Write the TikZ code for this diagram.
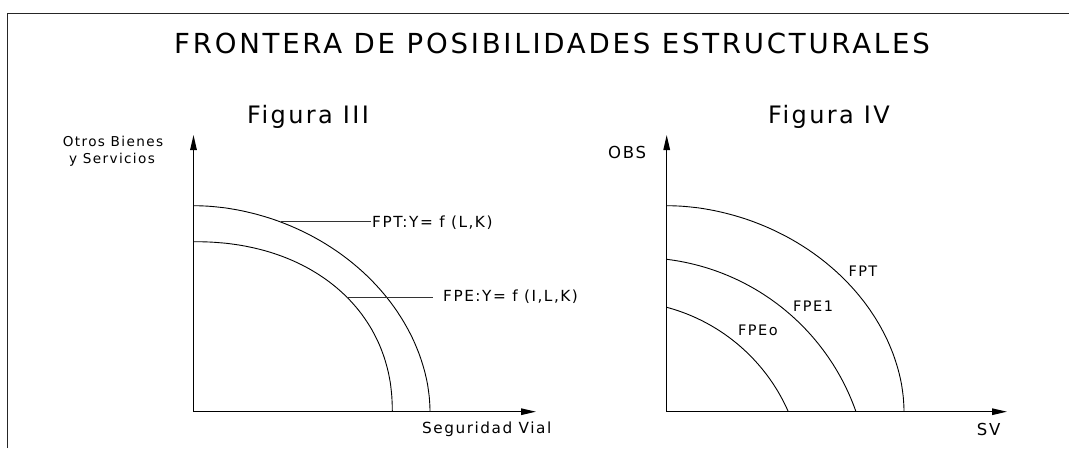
\documentclass[tikz,border=0pt]{standalone}
\usepackage{fontspec}
\setmainfont{DejaVu Sans}[LetterSpace=10]
\usetikzlibrary{arrows.meta}
\begin{document}
\begin{tikzpicture}[x=1pt,y=-1pt,
  frame/.style={line width=1.3pt, black!85},
  axis/.style={line width=1.3pt, -{Triangle[length=15pt,width=6.5pt]}},
  curve/.style={line width=0.9pt},
  leader/.style={line width=0.9pt, black!80},
  txt/.style={inner sep=0pt, anchor=base west},
  ttl/.style={txt, font=\fontsize{27.6}{30}\selectfont},
  fig/.style={txt, font=\fontsize{24}{26}\selectfont},
  small/.style={txt, font=\fontsize{15.3}{17}\selectfont},
  ytxt/.style={txt, font=\fontsize{13.6}{16}\selectfont},
  lab/.style={txt, font=\fontsize{14.5}{17}\selectfont},
  mid/.style={txt, font=\fontsize{16.5}{19}\selectfont}]
\useasboundingbox (0,0) rectangle (1069,448);
% frame
\draw[frame] (7.5,448) -- (7.5,13.5) -- (1069,13.5);
% titles
\node[ttl] (title) at (174,53.5) {FRONTERA DE POSIBILIDADES ESTRUCTURALES};
\node[fig] (f3) at (247,123.5) {Figura III};
\node[fig] (f4) at (768,123.5) {Figura IV};
% ---------- Figura III ----------
\coordinate (o3) at (193.5,411.7);
\coordinate (y3) at (193.5,135);
\coordinate (x3) at (536,411.7);
\draw[axis] (o3) -- (y3);
\draw[axis] (o3) -- (x3);
\node[ytxt] (ob1) at (62.7,146.7) {Otros Bienes};
\node[ytxt] (ob2) at (69,163) {y Servicios};
\node[small] (sv3) at (422,433.5) {Seguridad Vial};
% FPT (superellipse)
\draw[curve] plot[domain=0.05:89.95, samples=90, variable=\t]
  ({193.5+236.5*pow(cos(\t),1.04)}, {411.7-206*pow(sin(\t),1.04)});
% FPE
\draw[curve] plot[domain=0.05:89.95, samples=90, variable=\t]
  ({193.5+198.8*pow(cos(\t),0.93)}, {411.7-170*pow(sin(\t),0.93)});
\node[small] (fpt3) at (372,227.7) {FPT:Y= f (L,K)};
\node[small] (fpe3) at (443,301.7) {FPE:Y= f (I,L,K)};
\coordinate (c1) at (280.5,221.7);
\coordinate (c1e) at (370.5,221.7);
\coordinate (c2) at (347,297.7);
\coordinate (c2e) at (433,297.7);
\draw[leader] (c1) -- (c1e);
\draw[leader] (c2) -- (c2e);
% ---------- Figura IV ----------
\coordinate (o4) at (666.7,411.7);
\coordinate (y4) at (666.7,135);
\coordinate (x4) at (1007,411.7);
\draw[axis] (o4) -- (y4);
\draw[axis] (o4) -- (x4);
\node[mid] (obs) at (608,158) {OBS};
\node[mid] (sv4) at (976.7,435) {SV};
% FPT
\draw[curve] plot[domain=0.05:89.95, samples=90, variable=\t]
  ({666.7+237.3*pow(cos(\t),1.04)}, {411.7-206*pow(sin(\t),1.04)});
% FPE1 : circular arc, centre (638.8,487.7), r=230.1
\draw[curve] plot[domain=83.04:19.3, samples=60, variable=\t]
  ({638.8+230.1*cos(\t)}, {487.7-230.1*sin(\t)});
% FPEo : circular arc, centre (618.9,486), r=185
\draw[curve] plot[domain=75.0:23.7, samples=50, variable=\t]
  ({618.9+185*cos(\t)}, {486-185*sin(\t)});
\node[lab] (fpt4) at (848.3,276.7) {FPT};
\node[lab] (fpe1) at (793,311.7) {FPE1};
\node[lab] (fpe0) at (738,335.7) {FPEo};
\end{tikzpicture}
\end{document}
